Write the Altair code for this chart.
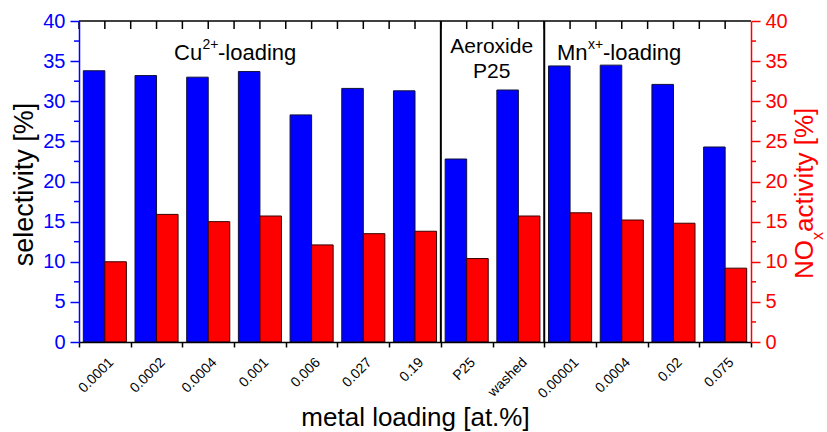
import altair as alt
import pandas as pd

# ---------------- data ----------------
labels = ["0.0001", "0.0002", "0.0004", "0.001", "0.006", "0.027", "0.19",
          "P25", "washed", "0.00001", "0.0004", "0.02", "0.075"]
selectivity = [33.8, 33.2, 33.0, 33.7, 28.3, 31.6, 31.3, 22.8, 31.4, 34.4, 34.5, 32.1, 24.3]
nox_activity = [10.0, 15.9, 15.0, 15.7, 12.1, 13.5, 13.8, 10.4, 15.7, 16.1, 15.2, 14.8, 9.2]
y_major = [0, 5, 10, 15, 20, 25, 30, 35, 40]
y_minor = [2.5, 7.5, 12.5, 17.5, 22.5, 27.5, 32.5, 37.5]
group_starts = [7, 9]  # category index where a new sample group begins

x_title = "metal loading [at.%]"
y_left_title = "selectivity [%]"
y_right_parts = ["NO", "x", "activity [%]"]
cu_parts = ["Cu", "2+", "-loading"]
mn_parts = ["Mn", "x+", "-loading"]
aeroxide_lines = ["Aeroxide", "P25"]

# ---------------- style ----------------
W, H = 672, 321
FONT = "Liberation Sans"
BLUE = "#0000FF"
RED = "#FF0000"

idx = list(range(len(labels)))
df = pd.DataFrame({
    "idx": idx * 2,
    "series": ["sel"] * len(idx) + ["nox"] * len(idx),
    "value": selectivity + nox_activity,
})
one = pd.DataFrame({"k": [0]})
cats = pd.DataFrame({"idx": idx})
seps = pd.DataFrame({"idx": group_starts})
minor = pd.DataFrame({"v": y_minor})

label_expr = "[" + ",".join(f"'{l}'" for l in labels) + "][datum.value]"
xscale = alt.Scale(domain=idx, paddingInner=0, paddingOuter=0)
yscale = alt.Scale(domain=[0, 40], nice=False, zero=True)
offscale = alt.Scale(domain=["sel", "nox"], paddingInner=0, paddingOuter=0.2)

x_axis = alt.Axis(
    title=x_title, titleFont=FONT, titleFontSize=26, titleFontWeight="normal",
    titleColor="black", titleX=W / 2, titleY=83, titleAlign="center",
    titleBaseline="alphabetic", titleAngle=0,
    labelExpr=label_expr, labelAngle=315, labelAlign="right", labelBaseline="middle",
    labelFont=FONT, labelFontSize=14, labelColor="black", labelOffset=6,
    labelPadding=13, labelOverlap=False,
    tickBand="extent", tickSize=5, tickColor="black", tickWidth=1.5,
    domainColor="black", domainWidth=1.5, grid=False, zindex=1,
)

def y_axis(orient, color, title=None):
    kw = dict(
        orient=orient, values=y_major, labelFont=FONT, labelFontSize=20,
        labelColor=color, labelPadding=5, labelFlush=False,
        tickSize=9, tickColor=color, tickWidth=1.5,
        domainColor=color, domainWidth=1.5, grid=False, zindex=1,
    )
    if title:
        kw.update(title=title, titleFont=FONT, titleFontSize=27,
                  titleFontWeight="normal", titleColor="black",
                  titleX=-47, titleY=163, titleAngle=270, titleAlign="center",
                  titleBaseline="alphabetic")
    else:
        kw.update(title=None)
    return alt.Axis(**kw)

base = alt.Chart(df)

bars_sel = base.transform_filter(alt.datum.series == "sel").mark_bar(
    color=BLUE, stroke="#10103a", strokeWidth=1
).encode(
    x=alt.X("idx:O", scale=xscale, axis=x_axis),
    xOffset=alt.XOffset("series:N", scale=offscale),
    y=alt.Y("value:Q", scale=yscale, axis=y_axis("left", BLUE, y_left_title)),
)

bars_nox = base.transform_filter(alt.datum.series == "nox").mark_bar(
    color=RED, stroke="#3a0000", strokeWidth=1
).encode(
    x=alt.X("idx:O", scale=xscale),
    xOffset=alt.XOffset("series:N", scale=offscale),
    y=alt.Y("value:Q", scale=yscale, axis=y_axis("right", RED)),
)

minor_left = alt.Chart(minor).mark_rule(color=BLUE, strokeWidth=1.5).encode(
    y=alt.Y("v:Q", scale=yscale, axis=None), x=alt.value(-5), x2=alt.value(0)
)
minor_right = alt.Chart(minor).mark_rule(color=RED, strokeWidth=1.5).encode(
    y=alt.Y("v:Q", scale=yscale, axis=None), x=alt.value(W), x2=alt.value(W + 5)
)

top_ticks_c = alt.Chart(cats).mark_rule(color="black", strokeWidth=1.5).encode(
    x=alt.X("idx:O", scale=xscale), y=alt.value(0), y2=alt.value(8)
)
top_ticks_b = alt.Chart(cats).mark_rule(color="black", strokeWidth=1.5).encode(
    x=alt.X("idx:O", scale=xscale, bandPosition=0), y=alt.value(0), y2=alt.value(8)
)
separators = alt.Chart(seps).mark_rule(color="black", strokeWidth=2).encode(
    x=alt.X("idx:O", scale=xscale, bandPosition=0), y=alt.value(0), y2=alt.value(H)
)
top_border = alt.Chart(one).mark_rule(color="black", strokeWidth=1.5).encode(
    x=alt.value(0), x2=alt.value(W), y=alt.value(0)
)

def txt(s, x, y, size, align="left", color="black", angle=0):
    kw = dict(text=s, font=FONT, fontSize=size, align=align,
              baseline="alphabetic", color=color)
    if angle:
        kw["angle"] = angle
    return alt.Chart(one).mark_text(**kw).encode(x=alt.value(x), y=alt.value(y))

texts = [
    txt(cu_parts[0], 95, 38.6, 22),
    txt(cu_parts[1], 123.5, 28, 14),
    txt(cu_parts[2], 139, 38.6, 22),
    txt(mn_parts[0], 478, 38.6, 22),
    txt(mn_parts[1], 509, 28, 14),
    txt(mn_parts[2], 524, 38.6, 22),
    txt(aeroxide_lines[0], 412.7, 31.6, 21, align="center"),
    txt(aeroxide_lines[1], 412.7, 57, 21, align="center"),
    txt(y_right_parts[0], 734.3, 258, 26, color=RED, angle=270),
    txt(y_right_parts[1], 744, 219, 16, color=RED, angle=270),
    txt(y_right_parts[2], 734.3, 211, 26, color=RED, angle=270),
]

chart = alt.layer(
    bars_sel, bars_nox, minor_left, minor_right,
    top_ticks_c, top_ticks_b, separators, top_border, *texts
).resolve_scale(
    y="independent"
).properties(
    width=W, height=H,
    autosize=alt.AutoSizeParams(type="none"),
    padding={"left": 79, "top": 21, "right": 827 - 79 - W, "bottom": 432 - 21 - H},
    background="white",
).configure_view(stroke=None)

chart.save("out.html", embed_options={"renderer": "svg", "actions": False})
